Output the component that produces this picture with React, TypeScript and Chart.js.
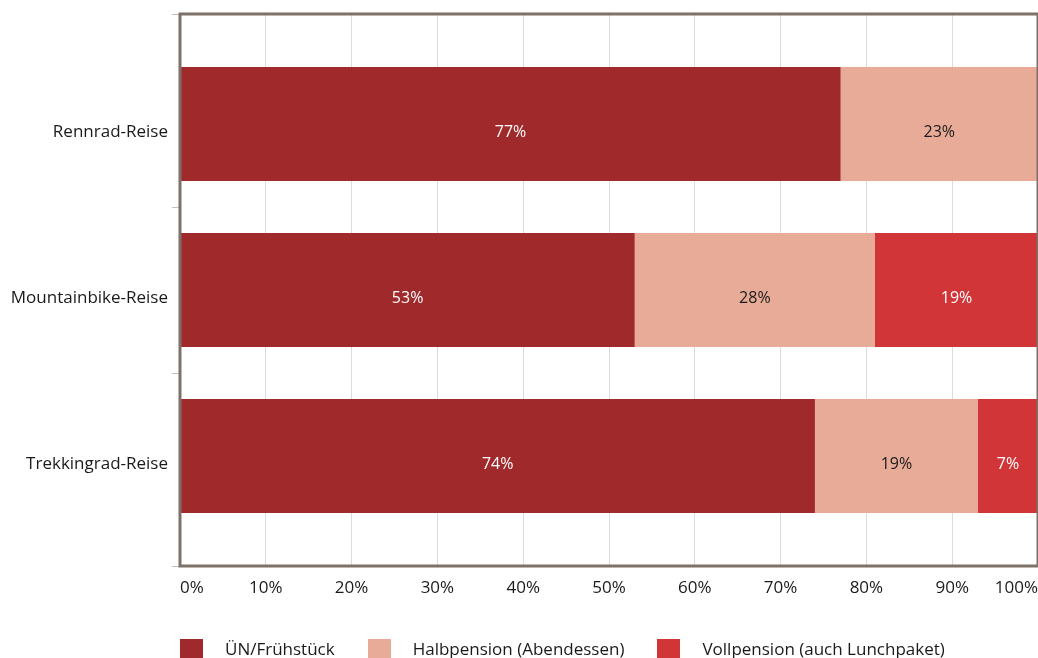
import React, { useEffect, useRef } from "react";
import { Chart, registerables } from "chart.js";

Chart.register(...registerables);

const categories = ["Rennrad-Reise", "Mountainbike-Reise", "Trekkingrad-Reise"];
const seriesNames = ["ÜN/Frühstück", "Halbpension (Abendessen)", "Vollpension (auch Lunchpaket)"];
const fruehstueck = [77, 53, 74];
const halbpension = [23, 28, 19];
const vollpension = [0, 19, 7];
const xTicks = [0, 10, 20, 30, 40, 50, 60, 70, 80, 90, 100];

const colors = ["#a0292c", "#e8ab98", "#d13538"];
const labelColors = ["#ffffff", "#1a1a1a", "#ffffff"];
const FONT = "'Open Sans', sans-serif";
const W = 1038;
const H = 658;

const framePlugin = {
  id: "frame",
  afterDraw(chart: any) {
    const { ctx, chartArea: a, scales } = chart;
    ctx.save();
    ctx.strokeStyle = "#c4bfbb";
    ctx.lineWidth = 1;
    const ys = [a.top, scales.y.getPixelForValue(0.5), scales.y.getPixelForValue(1.5), a.bottom];
    ys.forEach((y: number) => {
      ctx.beginPath();
      ctx.moveTo(a.left - 8, Math.round(y) + 0.5);
      ctx.lineTo(a.left, Math.round(y) + 0.5);
      ctx.stroke();
    });
    ctx.strokeStyle = "#7e7168";
    ctx.lineWidth = 3;
    ctx.strokeRect(a.left, a.top, a.right - a.left, a.bottom - a.top);
    ctx.font = `16px ${FONT}`;
    ctx.textAlign = "center";
    ctx.textBaseline = "middle";
    chart.data.datasets.forEach((ds: any, di: number) => {
      const meta = chart.getDatasetMeta(di);
      meta.data.forEach((el: any, i: number) => {
        const v = ds.data[i].x;
        if (!v) return;
        ctx.fillStyle = labelColors[di];
        ctx.fillText(`${v}%`, (el.x + el.base) / 2, el.y + 8);
      });
    });
    ctx.restore();
  },
};

export default function App() {
  const ref = useRef<HTMLCanvasElement>(null);
  useEffect(() => {
    const series = [fruehstueck, halbpension, vollpension];
    const chart = new Chart(ref.current!, {
      type: "bar",
      data: {
        datasets: series.map((vals, di) => ({
          label: seriesNames[di],
          data: vals.map((v, i) => ({ x: v, y: i })),
          backgroundColor: colors[di],
          borderWidth: 0,
          barPercentage: 0.687,
          categoryPercentage: 1,
        })),
      },
      options: {
        indexAxis: "y",
        animation: false,
        responsive: false,
        devicePixelRatio: 1,
        layout: { padding: { top: 14, right: 0, left: 0, bottom: 0 } },
        plugins: { legend: { display: false }, tooltip: { enabled: false } },
        scales: {
          x: {
            type: "linear",
            stacked: true,
            min: 0,
            max: 100,
            z: 1,
            afterBuildTicks: (s: any) => {
              s.ticks = xTicks.map((v) => ({ value: v }));
            },
            afterFit: (s: any) => {
              s.height = H - 566;
              s.paddingLeft = 0;
              s.paddingRight = 0;
            },
            ticks: {
              callback: (v: any) => `${v}%`,
              align: "inner",
              padding: 12,
              color: "#1a1a1a",
              font: { family: FONT, size: 17 },
            },
            grid: { color: "rgba(70,50,40,0.18)", drawTicks: false },
            border: { display: false },
          },
          y: {
            type: "linear",
            stacked: true,
            reverse: true,
            offset: false,
            min: -0.663,
            max: 2.663,
            afterBuildTicks: (s: any) => {
              s.ticks = categories.map((_, i) => ({ value: i }));
            },
            afterFit: (s: any) => {
              s.width = 180;
              s.paddingTop = 0;
              s.paddingBottom = 0;
            },
            ticks: {
              callback: (v: any) => categories[v] ?? "",
              padding: 12,
              labelOffset: 8,
              color: "#1a1a1a",
              font: { family: FONT, size: 17 },
            },
            grid: { display: false, drawTicks: false, offset: false },
            border: { display: false },
          },
        },
      } as any,
      plugins: [framePlugin],
    });
    return () => chart.destroy();
  }, []);

  return (
    <div style={{ position: "fixed", left: 0, top: 0, width: W, height: H, background: "#fff" }}>
      <canvas ref={ref} width={W} height={H} style={{ display: "block" }} />
      <div
        style={{
          position: "absolute",
          left: 180,
          top: 638,
          display: "flex",
          alignItems: "center",
          fontFamily: FONT,
          fontSize: 17,
          color: "#1a1a1a",
          height: 20,
          whiteSpace: "nowrap",
        }}
      >
        {seriesNames.map((n, i) => (
          <div key={n} style={{ display: "flex", alignItems: "center", marginRight: 33 }}>
            <span style={{ display: "inline-block", width: 23, height: 19, background: colors[i], marginRight: 22 }} />
            <span>{n}</span>
          </div>
        ))}
      </div>
    </div>
  );
}
